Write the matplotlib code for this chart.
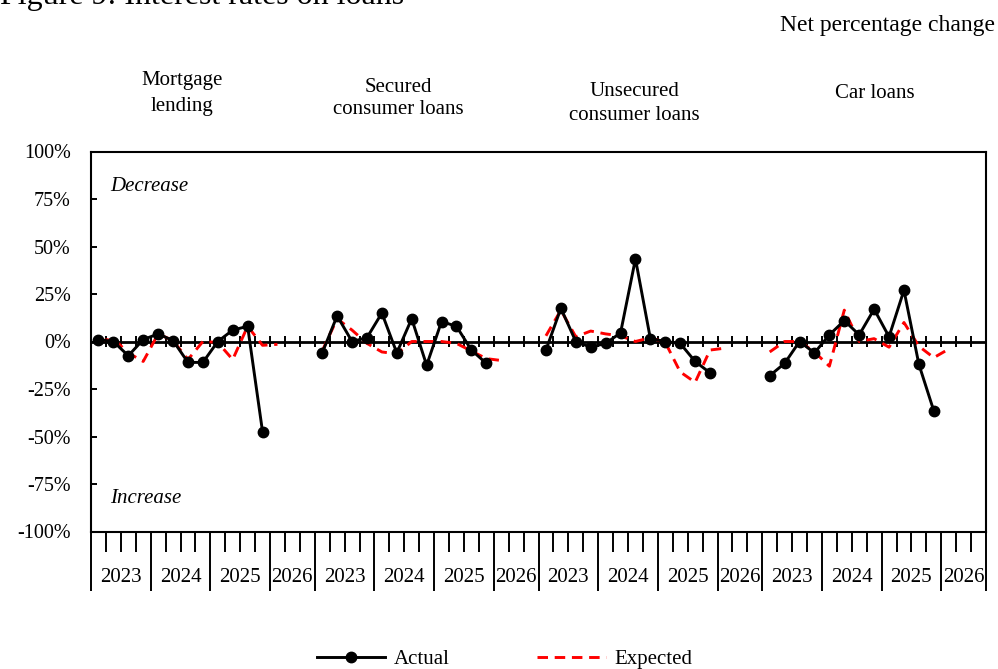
import matplotlib
matplotlib.use("Agg")
import matplotlib.pyplot as plt
from matplotlib.lines import Line2D

plt.rcParams['font.family'] = ['Liberation Serif', 'DejaVu Serif']

# ---- data ----
panels = ["Mortgage lending", "Secured consumer loans", "Unsecured consumer loans", "Car loans"]
years = ["2023", "2024", "2025", "2026"]
# quarterly net balances, 2023Q1 .. 2025Q4 (actual), 2023Q1 .. 2026Q1 (expected)
mortgage_actual = [1, 0, -7.5, 1, 4, 0.5, -11, -11, 0, 6, 8, -47.5]
mortgage_expected = [0, 1.5, -6, -10.5, 4, 0.5, -9.5, 0, -0.5, -9.5, 8, -2, -1.5]
secured_actual = [-6, 13.5, 0, 2, 15, -6, 12, -12.5, 10.5, 8, -4.5, -11.5]
secured_expected = [-5, 12, 6, -1, -5.5, -6.5, 0, 0, 0, -1, -5, -9, -10]
unsecured_actual = [-4.5, 17.5, 0, -3, -1, 4.5, 43.5, 1.5, 0, -1, -10.5, -16.5]
unsecured_expected = [3, 16.5, 2.5, 5.5, 4, 3, 0, 2, -0.5, -16, -21.5, -4.5, -3.5]
car_actual = [-18, -11.5, 0, -6, 3.5, 11, 3.5, 17, 2.5, 27, -12, -36.5]
car_expected = [-5.5, 0, 0, -5.5, -13, 16.5, 0, 1.5, -3, 10, -2.5, -8.5, -4]
actual_series = [mortgage_actual, secured_actual, unsecured_actual, car_actual]
expected_series = [mortgage_expected, secured_expected, unsecured_expected, car_expected]
ytick_values = [-100, -75, -50, -25, 0, 25, 50, 75, 100]
ytick_labels = ["-100%", "-75%", "-50%", "-25%", "0%", "25%", "50%", "75%", "100%"]
quarters_per_year = [4, 4, 4, 3]   # 2026 slot group holds 3 slots (incl. spacer)

W, H = 998, 669
fig = plt.figure(figsize=(W / 100, H / 100), dpi=100)
ax_left, ax_right, ax_top, ax_bot = 91, 986, 151.5, 531.5
ax = fig.add_axes([ax_left / W, (H - ax_bot) / H, (ax_right - ax_left) / W, (ax_bot - ax_top) / H])

slots_per_panel = sum(quarters_per_year)
n_slots = slots_per_panel * len(panels)

LW = 2.1
DASH = (0, (3.6, 2.3))
for p in range(len(panels)):
    base = p * slots_per_panel
    xa = [base + k + 0.5 for k in range(len(actual_series[p]))]
    xe = [base + k + 0.5 for k in range(len(expected_series[p]))]
    ax.plot(xe, expected_series[p], color='#ff0000', lw=LW, linestyle=DASH, zorder=3)
    ax.plot(xa, actual_series[p], color='black', lw=LW, marker='o', ms=7.5, zorder=4)

ax.set_xlim(0, n_slots)
ax.set_ylim(-100, 100)

# zero line with small crossing ticks
ax.axhline(0, color='black', lw=2.0, zorder=2)
ax.vlines(range(1, n_slots), -2.7, 2.7, color='black', lw=1.4, zorder=2)

# x ticks: long separators between years, short ticks between quarters
seps = []
for p in range(len(panels)):
    pos = p * slots_per_panel
    for q in quarters_per_year:
        seps.append(pos)
        pos += q
seps.append(n_slots)
minor = [i for i in range(n_slots + 1) if i not in seps]
ax.set_xticks(seps)
ax.set_xticks(minor, minor=True)
ax.set_xticklabels([])
ax.tick_params(axis='x', which='major', direction='out', length=42.5, width=1.4, color='black')
ax.tick_params(axis='x', which='minor', direction='out', length=14.4, width=1.4, color='black')

trans = ax.get_xaxis_transform()
for p in range(len(panels)):
    pos = p * slots_per_panel
    for y, q in zip(years, quarters_per_year):
        ax.text(pos + q / 2, -(578 - ax_bot) / (ax_bot - ax_top), y, transform=trans,
                ha='center', va='center', fontsize=15)
        pos += q

ax.set_yticks(ytick_values)
ax.set_yticklabels(ytick_labels)
ax.tick_params(axis='y', direction='in', length=4.3, width=1.4, pad=14.5, labelsize=14.5)

for s in ax.spines.values():
    s.set_linewidth(1.5)

ax.text(1.27, 81.8, "Decrease", style='italic', fontsize=15, ha='left', va='center')
ax.text(1.27, -82.4, "Increase", style='italic', fontsize=15, ha='left', va='center')

# panel titles (pixel positions)
title_lines = [
    (182, [("Mortgage", 81), ("lending", 106)]),
    (398, [("Secured", 87), ("consumer loans", 110)]),
    (634, [("Unsecured", 92), ("consumer loans", 115)]),
    (875, [("Car loans", 94)]),
]
for (cx, lines), name in zip(title_lines, panels):
    for txt, cy in lines:
        fig.text(cx / W, 1 - cy / H, txt, ha='center', va='center', fontsize=15)

fig.text(995 / W, 1 - 25 / H, "Net percentage change", ha='right', va='center', fontsize=17)
fig.text(0, 1 - 4 / H, "Figure 9: Interest rates on loans", ha='left', va='baseline', fontsize=23)

handles = [Line2D([], [], color='black', lw=LW, marker='o', ms=7.5),
           Line2D([], [], color='#ff0000', lw=LW, linestyle=DASH)]
fig.legend(handles, ["Actual", "Expected"], loc='center', bbox_to_anchor=(504.5 / W, 1 - 659 / H),
           ncol=2, frameon=False, fontsize=15, handlelength=3.3, handletextpad=0.4,
           columnspacing=4.2, numpoints=1)

fig.savefig("out.png", dpi=100)
